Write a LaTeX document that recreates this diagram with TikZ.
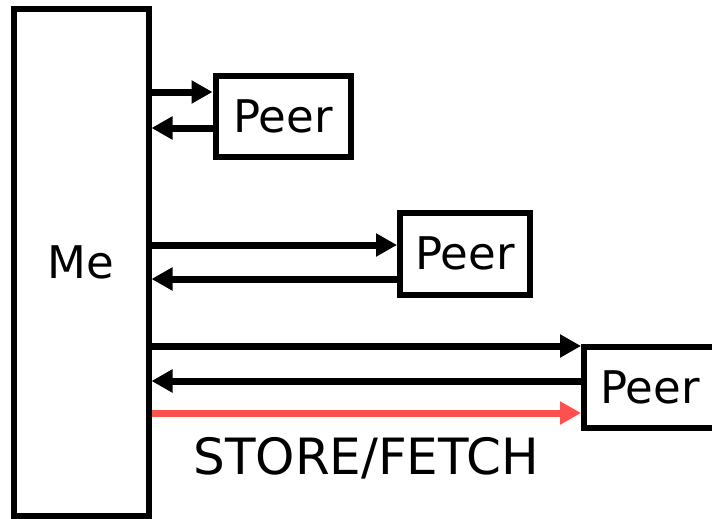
\documentclass[tikz,border=0pt]{standalone}
\usepackage{fontspec}
\setmainfont{DejaVu Sans}
\usetikzlibrary{arrows.meta}
\definecolor{fetchred}{RGB}{255,80,80}
\begin{document}
\begin{tikzpicture}[x=1pt,y=-1pt,
  box/.style={draw=black,line width=6pt,rectangle,inner sep=0pt,
    font=\fontsize{45}{50}\selectfont},
  link/.style={line width=7pt,-{Triangle[length=21pt,width=22pt]}},
  label/.style={font=\fontsize{50}{56}\selectfont,inner sep=0pt}]
  % fixed frame; the last peer box runs past the right edge
  \path[use as bounding box,clip] (0,0) rectangle (712,519);

  % the local node and its three peers
  \node[box,minimum width=134.5pt,minimum height=506.5pt] (me) at (81.25,262.25) {Me};
  \node[box,minimum width=135pt,minimum height=81pt] (p1) at (283,116.5) {Peer};
  \node[box,minimum width=130pt,minimum height=81.5pt] (p2) at (465,253.75) {Peer};
  \node[box,minimum width=132pt,minimum height=81pt] (p3) at (650,387.5) {Peer};

  % request / reply pairs
  \draw[link] (me.east |- 0,92) -- (p1.west |- 0,92);
  \draw[link] (p1.west |- 0,128) -- (me.east |- 0,128);
  \draw[link] (me.east |- 0,245) -- (p2.west |- 0,245);
  \draw[link] (p2.west |- 0,279) -- (me.east |- 0,279);
  \draw[link] (me.east |- 0,346) -- (p3.west |- 0,346);
  \draw[link] (p3.west |- 0,381) -- (me.east |- 0,381);

  % store/fetch operation
  \draw[link,draw=fetchred,fill=fetchred] (me.east |- 0,413) -- (p3.west |- 0,413);
  \node[label,anchor=base] (op) at (366,474) {STORE/FETCH};
\end{tikzpicture}
\end{document}
